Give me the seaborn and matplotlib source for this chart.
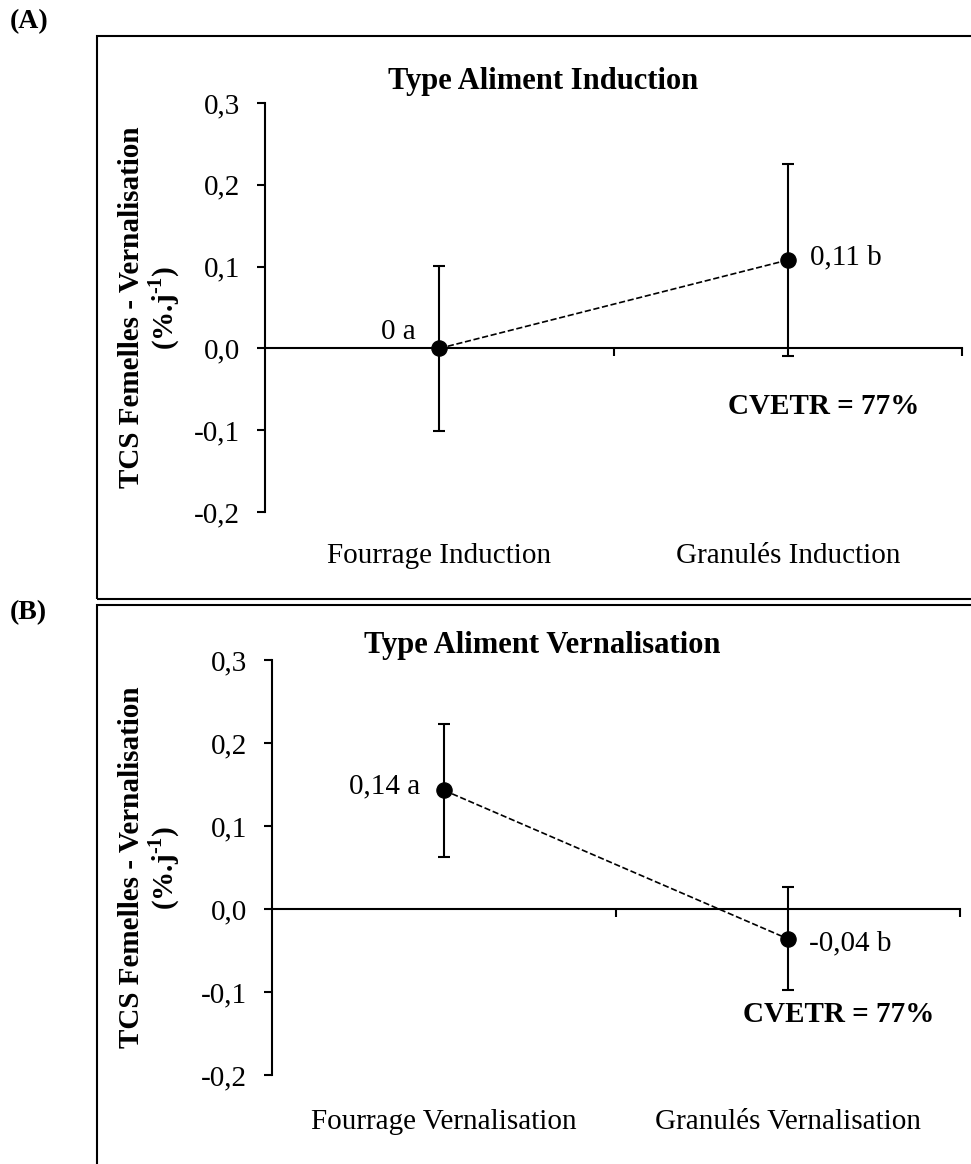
import pandas as pd
import seaborn as sns
import matplotlib.pyplot as plt
from matplotlib.patches import Rectangle
from matplotlib.ticker import FuncFormatter

# panel A : type d'aliment pendant l'induction
cats_a = ["Fourrage Induction", "Granulés Induction"]
vals_a = [0.0, 0.108]
errs_a = [0.101, 0.117]
labels_a = ["0 a", "0,11 b"]

# panel B : type d'aliment pendant la vernalisation
cats_b = ["Fourrage Vernalisation", "Granulés Vernalisation"]
vals_b = [0.143, -0.036]
errs_b = [0.08, 0.062]
labels_b = ["0,14 a", "-0,04 b"]

yticks = [-0.2, -0.1, 0.0, 0.1, 0.2, 0.3]

sns.set_style("white")
plt.rcParams["font.family"] = ["Liberation Serif", "DejaVu Serif"]
plt.rcParams["mathtext.fontset"] = "custom"
plt.rcParams["mathtext.rm"] = "Liberation Serif"
plt.rcParams["mathtext.bf"] = "Liberation Serif:bold"
for k in ["text.color", "axes.labelcolor", "xtick.color", "ytick.color", "axes.edgecolor"]:
    plt.rcParams[k] = "black"

FS = 21
W, H = 971, 1164
fig = plt.figure(figsize=(W / 100, H / 100), dpi=100)


def fx(px):
    return px / W


def fy(py):
    return 1 - py / H


def panel(rect, cats, vals, errs, labels, title, title_xy, cv_xy, lab_off, cat_pad):
    ax = fig.add_axes(rect)
    df = pd.DataFrame({"cat": cats, "val": vals})
    sns.pointplot(data=df, x="cat", y="val", order=cats, errorbar=None,
                  color="black", linestyle="--", linewidth=1.2,
                  markersize=11, ax=ax)
    for ln in ax.lines:
        ln.set_zorder(4)
    pos = list(range(len(cats)))
    ax.errorbar(pos, vals, yerr=errs, fmt="none", ecolor="black",
                elinewidth=1.5, capsize=4, capthick=1.5, zorder=3)

    ax.set_xlim(-0.5, len(cats) - 0.5)
    ax.set_ylim(-0.2, 0.3)
    ax.set_yticks(yticks)
    ax.yaxis.set_major_formatter(
        FuncFormatter(lambda v, p: f"{v:.1f}".replace(".", ",").replace("-0,0", "0,0")))
    ax.set_xticks([p + 0.5 for p in pos])
    ax.set_xticklabels([])
    ax.set_xlabel("")
    ax.set_ylabel("")

    for s in ["top", "right"]:
        ax.spines[s].set_visible(False)
    ax.spines["bottom"].set_position(("data", 0))
    for s in ["left", "bottom"]:
        ax.spines[s].set_linewidth(1.5)
        ax.spines[s].set_color("black")
    ax.tick_params(axis="y", direction="out", length=6, width=1.5,
                   labelsize=FS, pad=12, left=True, colors="black")
    ax.tick_params(axis="x", direction="out", length=6, width=1.5, bottom=True,
                   colors="black")

    # category names under the plot
    for p, c in zip(pos, cats):
        ax.annotate(c, (p, -0.2), xytext=(0, -cat_pad), textcoords="offset points",
                    ha="center", va="center", fontsize=FS, annotation_clip=False)

    # mean labels
    for p, v, t, off in zip(pos, vals, labels, lab_off):
        ax.annotate(t, (p, v), xytext=off, textcoords="offset points",
                    ha="right" if off[0] < 0 else "left", va="center", fontsize=FS)

    yl = ax.set_ylabel("TCS Femelles - Vernalisation\n(%.j$^{\\mathbf{\\text{-}1}}$)",
                       fontsize=FS, fontweight="bold", linespacing=1.05)
    yl.set_rotation_mode("default")
    yl.set_va("center")
    ax.yaxis.set_label_coords((fx(150) - rect[0]) / rect[2], 0.5)

    fig.text(fx(title_xy[0]), fy(title_xy[1]), title, fontsize=FS + 1,
             fontweight="bold", ha="center", va="center")
    fig.text(fx(cv_xy[0]), fy(cv_xy[1]), "CVETR = 77%", fontsize=FS,
             fontweight="bold", ha="center", va="center")
    return ax


axA = panel([fx(265), fy(512), fx(962) - fx(265), fy(103) - fy(512)],
            cats_a, vals_a, errs_a, labels_a, "Type Aliment Induction",
            (543, 82), (824, 407), [(-17, 12), (16, 2)], 32)
axB = panel([fx(272), fy(1075), fx(960) - fx(272), fy(660) - fy(1075)],
            cats_b, vals_b, errs_b, labels_b, "Type Aliment Vernalisation",
            (542, 645), (839, 1015), [(-17, 3), (15, -3)], 34)

# panel frames and letters
fig.patches.append(Rectangle((fx(97), fy(599)), 1.0, fy(36) - fy(599), fill=False,
                             lw=1.5, edgecolor="black", transform=fig.transFigure,
                             clip_on=False))
fig.patches.append(Rectangle((fx(97), fy(1200)), 1.0, fy(605) - fy(1200), fill=False,
                             lw=1.5, edgecolor="black", transform=fig.transFigure,
                             clip_on=False))
fig.text(fx(10), fy(22), "(A)", fontsize=FS - 1, fontweight="bold", va="center")
fig.text(fx(10), fy(613), "(B)", fontsize=FS - 1, fontweight="bold", va="center")

plt.savefig("out.png", dpi=100)
